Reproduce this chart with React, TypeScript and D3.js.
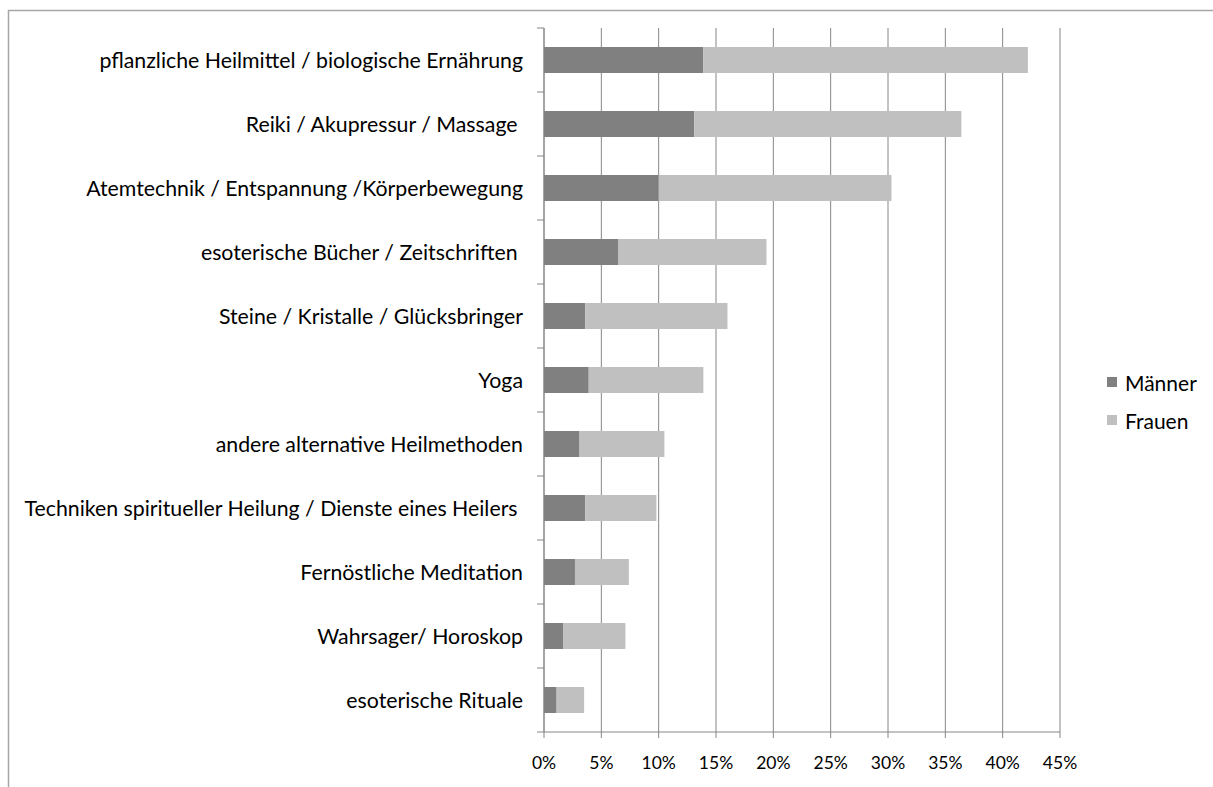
import React from "react";
import * as d3 from "d3";

const categories = [
  "pflanzliche Heilmittel / biologische Ernährung",
  "Reiki / Akupressur / Massage ",
  "Atemtechnik / Entspannung /Körperbewegung",
  "esoterische Bücher / Zeitschriften ",
  "Steine / Kristalle / Glücksbringer",
  "Yoga",
  "andere alternative Heilmethoden",
  "Techniken spiritueller Heilung / Dienste eines Heilers ",
  "Fernöstliche Meditation",
  "Wahrsager/ Horoskop",
  "esoterische Rituale",
];
const maenner = [0.139, 0.131, 0.1, 0.065, 0.036, 0.039, 0.031, 0.036, 0.027, 0.017, 0.011];
const frauen = [0.283, 0.233, 0.203, 0.129, 0.124, 0.1, 0.074, 0.062, 0.047, 0.054, 0.024];
const seriesNames = ["Männer", "Frauen"];
const seriesColors = ["#808080", "#C0C0C0"];
const xTicks = [0, 0.05, 0.1, 0.15, 0.2, 0.25, 0.3, 0.35, 0.4, 0.45];

const FONT = "Lato, 'Open Sans', sans-serif";

export default function App() {
  const W = 1213, H = 787;
  const left = 544, right = 1060, top = 28, bottom = 732;
  const x = d3.scaleLinear().domain([0, 0.45]).range([left, right]);
  const y = d3.scaleBand<string>().domain(categories).range([top, bottom]);
  const step = y.step();
  const barH = 26;
  const fmt = d3.format(".0%");
  const grid = "#868686";

  return (
    <svg width={W} height={H} style={{ position: "fixed", left: 0, top: 0, background: "#fff" }}>
      <rect x={8.5} y={10.5} width={W + 20} height={H + 20} fill="#fff" stroke="#a6a6a6" strokeWidth={1.5} />
      {xTicks.map((t) => (
        <line key={"g" + t} x1={x(t)} x2={x(t)} y1={top} y2={bottom + 6} stroke={grid} strokeWidth={1} />
      ))}
      <line x1={left} x2={right} y1={bottom} y2={bottom} stroke={grid} />
      <line x1={left} x2={left} y1={top} y2={bottom} stroke={grid} />
      {d3.range(categories.length + 1).map((i) => (
        <line key={"yt" + i} x1={left - 7} x2={left} y1={top + i * step} y2={top + i * step} stroke={grid} />
      ))}
      {categories.map((c, i) => {
        const yc = (y(c) as number) + step / 2;
        return (
          <g key={c}>
            <rect x={x(0)} y={yc - barH / 2} width={x(maenner[i]) - x(0)} height={barH} fill={seriesColors[0]} />
            <rect x={x(maenner[i])} y={yc - barH / 2} width={x(maenner[i] + frauen[i]) - x(maenner[i])} height={barH} fill={seriesColors[1]} />
            <text x={523} y={yc} textAnchor="end" dominantBaseline="central" fontFamily={FONT} fontSize={21.3} fill="#000" style={{ whiteSpace: "pre" }}>
              {c}
            </text>
          </g>
        );
      })}
      {xTicks.map((t) => (
        <text key={"tl" + t} x={x(t)} y={762} textAnchor="middle" dominantBaseline="central" fontFamily={FONT} fontSize={17.5} fill="#000">
          {fmt(t)}
        </text>
      ))}
      {seriesNames.map((s, i) => (
        <g key={s}>
          <rect x={1107} y={377 + i * 38} width={10} height={10} fill={seriesColors[i]} />
          <text x={1125} y={382 + i * 38} dominantBaseline="central" fontFamily={FONT} fontSize={21} fill="#000">
            {s}
          </text>
        </g>
      ))}
    </svg>
  );
}
